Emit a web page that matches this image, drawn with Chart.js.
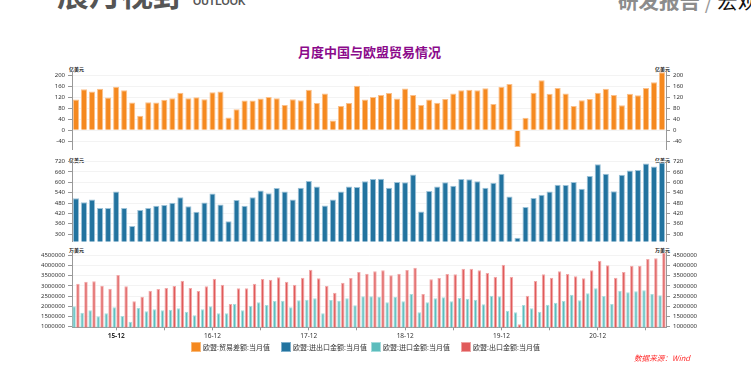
<!DOCTYPE html>
<html><head><meta charset="utf-8">
<script src="https://cdn.jsdelivr.net/npm/chart.js@4/dist/chart.umd.min.js"></script>
<style>
html,body{margin:0;padding:0;background:#fff;width:751px;height:390px;overflow:hidden;position:relative;font-family:"Noto Sans CJK SC","Noto Sans",sans-serif;}
.abs{position:absolute;white-space:nowrap;}
canvas{position:absolute;left:0;}
.unit{position:absolute;font-size:5px;line-height:5px;color:#222;font-weight:bold;white-space:nowrap;}
.lg{position:absolute;top:342px;height:11px;font-size:7px;line-height:11px;color:#333;white-space:nowrap;}
.lg i{display:inline-block;width:10px;height:10px;vertical-align:top;margin-right:2px;box-sizing:border-box;border:1px solid;}
</style></head><body>
<div class="abs" style="left:57px;top:-24px;font-size:32px;line-height:32px;font-weight:bold;color:#555;">展月视野</div>
<div class="abs" style="left:193px;top:-4px;font-size:10.5px;line-height:11px;color:#555;font-weight:bold;font-family:'Liberation Sans',sans-serif;">OUTLOOK</div>
<div class="abs" style="left:618px;top:-10.5px;font-size:20.5px;line-height:20.5px;font-weight:bold;color:#8c8c8c;">研发报告 <span style="font-weight:normal;color:#999;">/</span> <span style="color:#111;font-weight:normal;">宏观</span></div>
<div class="abs" style="left:0;width:739px;text-align:center;top:44px;font-size:13px;line-height:16px;font-weight:bold;color:#8B0A8B;">月度中国与欧盟贸易情况</div>

<div class="unit" style="left:69px;top:66px;">亿美元</div>
<div class="unit" style="left:655px;top:66px;">亿美元</div>
<div class="unit" style="left:69px;top:156.5px;">亿美元</div>
<div class="unit" style="left:655px;top:156.5px;">亿美元</div>
<div class="unit" style="left:69px;top:246.5px;">万美元</div>
<div class="unit" style="left:655px;top:246.5px;">万美元</div>

<canvas id="c1" width="751" height="96" style="top:60px;"></canvas>
<canvas id="c2" width="751" height="96" style="top:152px;"></canvas>
<canvas id="c3" width="751" height="105" style="top:240px;"></canvas>

<div class="lg" style="left:191px;"><i style="background:#F5891F;border-color:#f9b877;"></i>欧盟:贸易差额:当月值</div>
<div class="lg" style="left:281px;"><i style="background:#22739F;border-color:#7fb0cc;"></i>欧盟:进出口金额:当月值</div>
<div class="lg" style="left:371px;"><i style="background:#5CBDBD;border-color:#a4dcdc;"></i>欧盟:进口金额:当月值</div>
<div class="lg" style="left:461px;"><i style="background:#E05B5B;border-color:#f0a3a3;"></i>欧盟:出口金额:当月值</div>
<div class="abs" style="left:634px;top:353px;font-size:7.6px;line-height:10px;color:#FF2A2A;font-style:italic;">数据来源：Wind</div>

<script>
const MONTHS = ["15-07","15-08","15-09","15-10","15-11","15-12",
"16-01","16-02","16-03","16-04","16-05","16-06","16-07","16-08","16-09","16-10","16-11","16-12",
"17-01","17-02","17-03","17-04","17-05","17-06","17-07","17-08","17-09","17-10","17-11","17-12",
"18-01","18-02","18-03","18-04","18-05","18-06","18-07","18-08","18-09","18-10","18-11","18-12",
"19-01","19-02","19-03","19-04","19-05","19-06","19-07","19-08","19-09","19-10","19-11","19-12",
"20-01","20-02","20-03","20-04","20-05","20-06","20-07","20-08","20-09","20-10","20-11","20-12",
"21-01","21-02","21-03","21-04","21-05","21-06","21-07","21-08"];

// 欧盟:贸易差额:当月值 (亿美元)
const BALANCE = [112,149,141,151,119,158,145,101,53,102,
101,111,116,136,116,120,113,138,141,46,
76,108,108,115,121,116,92,113,109,147,
99,134,35,88,99,162,112,121,128,135,
115,152,128,92,112,100,114,134,145,147,
145,153,95,158,168,-61,45,136,182,133,
154,134,88,109,114,136,151,128,91,133,
127,154,175,211];

// 欧盟:进出口金额:当月值 (亿美元)
const TOTAL = [507,485,500,451,451,546,451,347,440,451,
464,468,481,513,462,429,483,535,472,375,
498,464,513,552,537,567,546,500,569,608,
576,466,500,546,576,573,606,619,621,569,
602,600,645,431,550,576,600,580,619,617,
606,569,597,649,518,279,457,509,528,546,
586,584,602,563,636,705,649,548,643,668,
671,709,692,714];

// 欧盟:进口金额:当月值 (万美元)
const IMPORTS = [2000000,1689000,1804000,1510000,1657000,1951000,1526000,1248000,1935000,1755000,
1853000,1804000,1837000,1902000,1739000,1559000,1853000,2000000,1657000,1657000,
2114000,1804000,2033000,2196000,2065000,2261000,2278000,1951000,2294000,2327000,
2392000,1657000,2310000,2278000,2392000,2049000,2490000,2490000,2474000,2196000,
2457000,2245000,2604000,1706000,2196000,2392000,2441000,2245000,2408000,2376000,
2327000,2098000,2523000,2490000,1788000,1706000,2065000,1902000,1739000,2082000,
2180000,2261000,2572000,2294000,2637000,2883000,2506000,2114000,2768000,2686000,
2735000,2784000,2604000,2539000];

// 欧盟:出口金额:当月值 (万美元)
const EXPORTS = [3111000,3209000,3225000,3013000,2866000,3536000,2980000,2245000,2474000,2768000,
2850000,2899000,2997000,3258000,2899000,2752000,2980000,3356000,3062000,2114000,
2882000,2882000,3111000,3340000,3307000,3422000,3209000,3062000,3405000,3797000,
3372000,2997000,2670000,3160000,3389000,3683000,3601000,3716000,3765000,3520000,
3601000,3781000,3895000,2604000,3323000,3389000,3585000,3569000,3846000,3846000,
3765000,3634000,3454000,4042000,3454000,1118000,2523000,3242000,3569000,3405000,
3716000,3585000,3471000,3372000,3765000,4239000,4010000,3405000,3683000,3993000,
3993000,4320000,4353000,4631000];

const TICKS_BAL = [-40,0,40,80,120,160,200];
const TICKS_TOTAL = [300,360,420,480,540,600,660,720];
const TICKS_TRADE = [1000000,1500000,2000000,2500000,3000000,3500000,4000000,4500000];

function yAxis(pos, min, max, ticks){
  return {
    position: pos, min: min, max: max,
    afterBuildTicks: s => { s.ticks = ticks.map(v => ({value: v})); },
    afterFit: s => { s.width = pos === 'left' ? 72 : 85; },
    grid: {display: true, drawOnChartArea: pos === 'left', color: '#f3f3f3', tickLength: 4, tickColor: '#999', lineWidth: 1},
    border: {display: true, color: '#999'},
    ticks: {font: {size: 6, family: 'Noto Sans'}, color: '#333', padding: 3, autoSkip: false, callback: v => String(v)}
  };
}

function hiddenX(){
  return {type: 'category', offset: true, display: false, grid: {display: false}};
}

function makeChart(id, datasets, min, max, ticks, pad, xScale){
  return new Chart(document.getElementById(id), {
    type: 'bar',
    data: {labels: MONTHS, datasets: datasets},
    options: {
      responsive: false, animation: false, devicePixelRatio: 1,
      layout: {padding: pad},
      plugins: {legend: {display: false}, tooltip: {enabled: false}, title: {display: false}},
      scales: {x: xScale, y: yAxis('left', min, max, ticks), y2: yAxis('right', min, max, ticks)}
    }
  });
}

makeChart('c1', [{label: '欧盟:贸易差额:当月值', data: BALANCE, backgroundColor: '#F5891F', borderColor: '#fbc08a', borderWidth: 1, categoryPercentage: 1, barPercentage: 0.76, yAxisID: 'y'}],
  -70, 213, TICKS_BAL, {top: 11.7, bottom: 4.3, left: 0, right: 0}, hiddenX());

makeChart('c2', [{label: '欧盟:进出口金额:当月值', data: TOTAL, backgroundColor: '#22739F', borderColor: '#9cc2d8', borderWidth: 1, categoryPercentage: 1, barPercentage: 0.76, yAxisID: 'y'}],
  258, 726, TICKS_TOTAL, {top: 8.5, bottom: 4.3, left: 0, right: 0}, hiddenX());

makeChart('c3', [
  {label: '欧盟:进口金额:当月值', data: IMPORTS, backgroundColor: '#5CBDBD', borderColor: '#a8dede', borderWidth: 1, categoryPercentage: 0.96, barPercentage: 0.9, yAxisID: 'y'},
  {label: '欧盟:出口金额:当月值', data: EXPORTS, backgroundColor: '#E05B5B', borderColor: '#f2a9a9', borderWidth: 1, categoryPercentage: 0.96, barPercentage: 0.9, yAxisID: 'y'}
], 970000, 4650000, TICKS_TRADE, {top: 12.3, bottom: 0, left: 0, right: 0}, {
  type: 'category', offset: true,
  afterBuildTicks: s => { s.ticks = s.ticks.filter(t => { const l = MONTHS[t.value]; return l.endsWith('-12') || l.endsWith('-06'); }); },
  afterFit: s => { s.height = 17.7; },
  grid: {display: true, offset: false, drawOnChartArea: false, tickLength: 3, tickColor: '#999'},
  border: {display: true, color: '#999'},
  ticks: {autoSkip: false, maxRotation: 0, minRotation: 0, padding: 2, color: '#333',
    font: c => ({size: 6.5, family: 'Noto Sans', weight: c.index === 0 ? 'bold' : 'normal'}),
    callback: function(v){ const l = this.getLabelForValue(v); return l.endsWith('-12') ? l : ''; }}
});
</script>
</body></html>
